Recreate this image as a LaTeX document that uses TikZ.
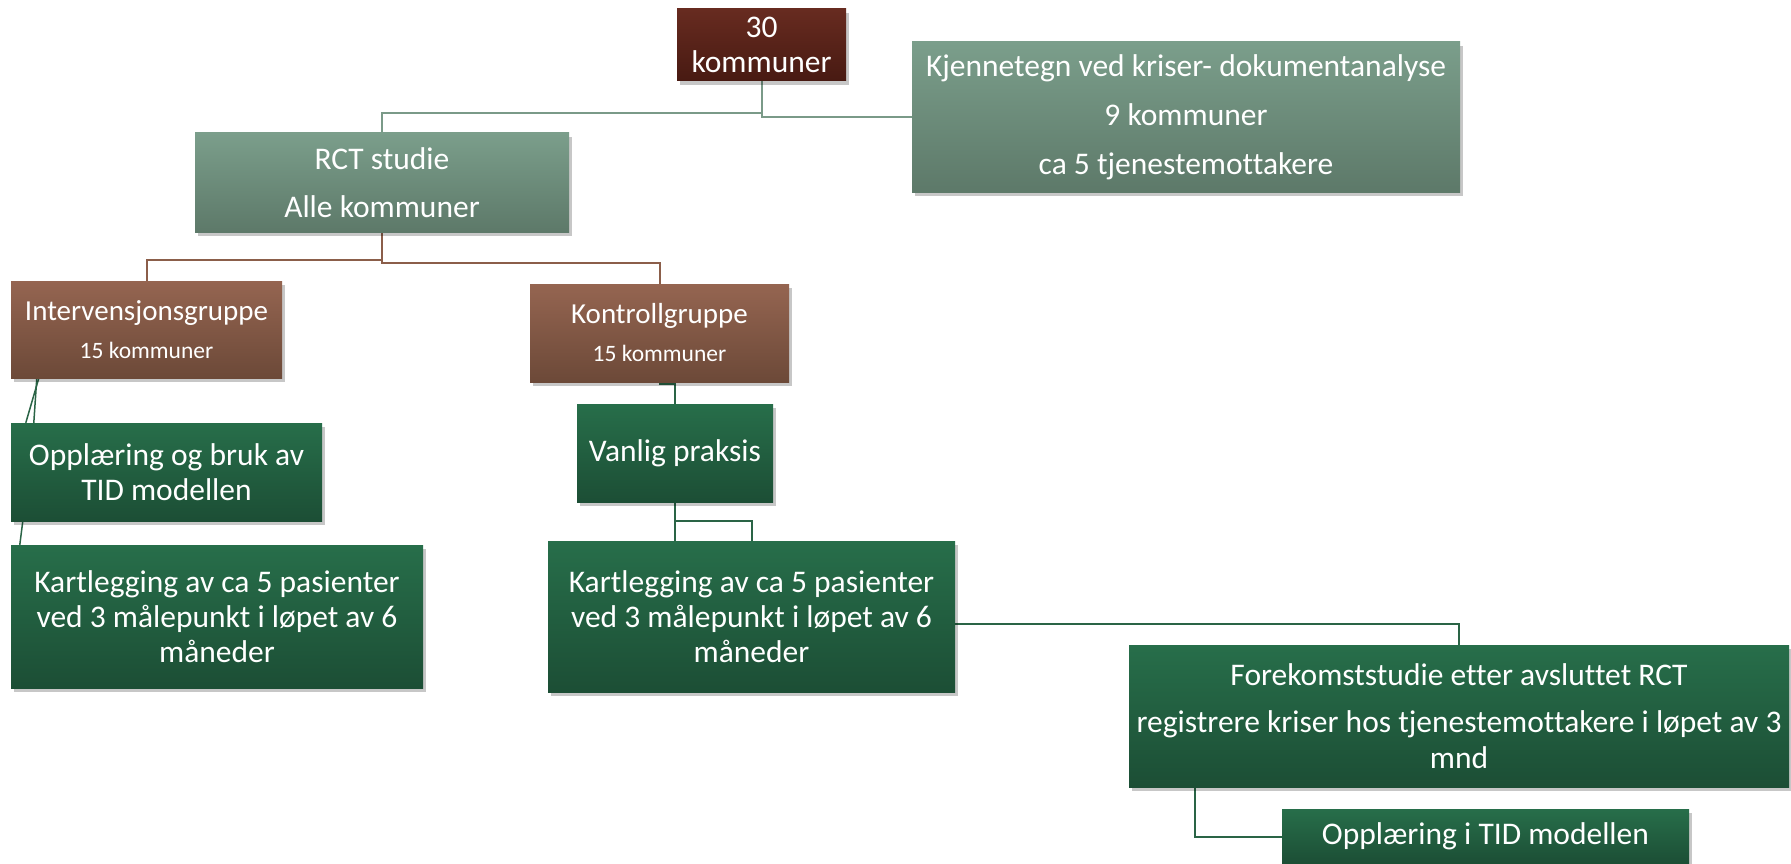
\documentclass[tikz,border=0pt]{standalone}
\usepackage{fontspec}
\setmainfont{Carlito}[Ligatures=NoCommon]
\usetikzlibrary{shadows,backgrounds}
\definecolor{topA}{HTML}{672B20}
\definecolor{topB}{HTML}{481A12}
\definecolor{sgA}{HTML}{7B9E8B}
\definecolor{sgB}{HTML}{5D7969}
\definecolor{brA}{HTML}{956551}
\definecolor{brB}{HTML}{6C4938}
\definecolor{gnA}{HTML}{276E4A}
\definecolor{gnB}{HTML}{1C4E35}
\definecolor{lnGray}{HTML}{7A9A88}
\definecolor{lnBrown}{HTML}{8B5E4A}
\definecolor{lnGreen}{HTML}{2A6446}
\tikzset{
  box/.style={rectangle, inner sep=0pt, text=white, align=center,
    font=\fontsize{31.5}{35}\selectfont,
    drop shadow={shadow xshift=3pt, shadow yshift=-4pt, opacity=0.22, fill=black}},
  topbox/.style={box, top color=topA, bottom color=topB},
  sagebox/.style={box, top color=sgA, bottom color=sgB},
  brownbox/.style={box, top color=brA, bottom color=brB, font=\fontsize{23.5}{38}\selectfont},
  greenbox/.style={box, top color=gnA, bottom color=gnB},
  graylink/.style={draw=lnGray, line width=2pt},
  brownlink/.style={draw=lnBrown, line width=2pt},
  greenlink/.style={draw=lnGreen, line width=2pt},
  thinlink/.style={draw=lnGreen, line width=1.5pt}
}
\begin{document}
\begin{tikzpicture}[x=1pt,y=-1pt]
\useasboundingbox (0,0) rectangle (1791,864);

\node[topbox, minimum width=169pt, minimum height=72pt] (top) at (761.5,45) {30\\kommuner};
\node[sagebox, minimum width=548pt, minimum height=150pt] (kj) at (1186,117)
  {Kjennetegn ved kriser- dokumentanalyse\\[14pt]9 kommuner\\[14pt]ca 5 tjenestemottakere};
\node[sagebox, minimum width=374pt, minimum height=99pt] (rct) at (382,182.5)
  {RCT studie\\[13pt]Alle kommuner};
\node[brownbox, minimum width=271pt, minimum height=97pt] (interv) at (146.5,329.5)
  {{\fontsize{29}{38}\selectfont Intervensjonsgruppe}\\15 kommuner};
\node[brownbox, minimum width=259pt, minimum height=98pt] (kontroll) at (659.5,333)
  {{\fontsize{29}{38}\selectfont Kontrollgruppe}\\15 kommuner};
\node[greenbox, minimum width=311pt, minimum height=98pt] (oppl) at (166.5,472)
  {Opplæring og bruk av\\TID modellen};
\node[greenbox, minimum width=412pt, minimum height=143pt] (kartL) at (217,616.5)
  {Kartlegging av ca 5 pasienter\\ved 3 målepunkt i løpet av 6\\måneder};
\node[greenbox, minimum width=196pt, minimum height=98pt] (vanlig) at (675,453)
  {Vanlig praksis};
\node[greenbox, minimum width=407pt, minimum height=151pt] (kartM) at (751.5,616.5)
  {Kartlegging av ca 5 pasienter\\ved 3 målepunkt i løpet av 6\\måneder};
\node[greenbox, minimum width=660pt, minimum height=142pt] (fore) at (1459,716)
  {Forekomststudie etter avsluttet RCT\\[12pt]registrere kriser hos tjenestemottakere i løpet av 3\\[1.5pt]mnd};
\node[greenbox, minimum width=407pt, minimum height=55pt] (opptid) at (1485.5,836.5)
  {Opplæring i TID modellen};

\begin{scope}[on background layer]
\fill[white] (0,0) rectangle (1791,864);
\draw[graylink] (top.south) -- ++(0,32) -| (rct.north);
\draw[graylink] (top.south) |- (kj.west);
\draw[brownlink] (rct.south) -- ++(0,28) -| (interv.north);
\draw[brownlink] (rct.south) -- ++(0,31) -| (kontroll.north);
\draw[greenlink] (kontroll.south) -- ++(0,2) -| (vanlig.north);
\draw[greenlink] (vanlig.south) -- (vanlig.south |- kartM.north);
\draw[greenlink] (vanlig.south) -- ++(0,19) -| (kartM.north);
\draw[greenlink] ([yshift=-7.5pt]kartM.east) -| (fore.north);
\draw[greenlink] ([xshift=66pt]fore.south west) |- (opptid.west);
\draw[thinlink] ([xshift=28pt]interv.south west) -- ([xshift=15pt]oppl.north west);
\draw[thinlink] ([xshift=26pt]interv.south west) -- ([xshift=23pt]oppl.north west);
\draw[thinlink] ([xshift=12pt]oppl.south west) -- ([xshift=9pt]kartL.north west);
\end{scope}
\end{tikzpicture}
\end{document}
